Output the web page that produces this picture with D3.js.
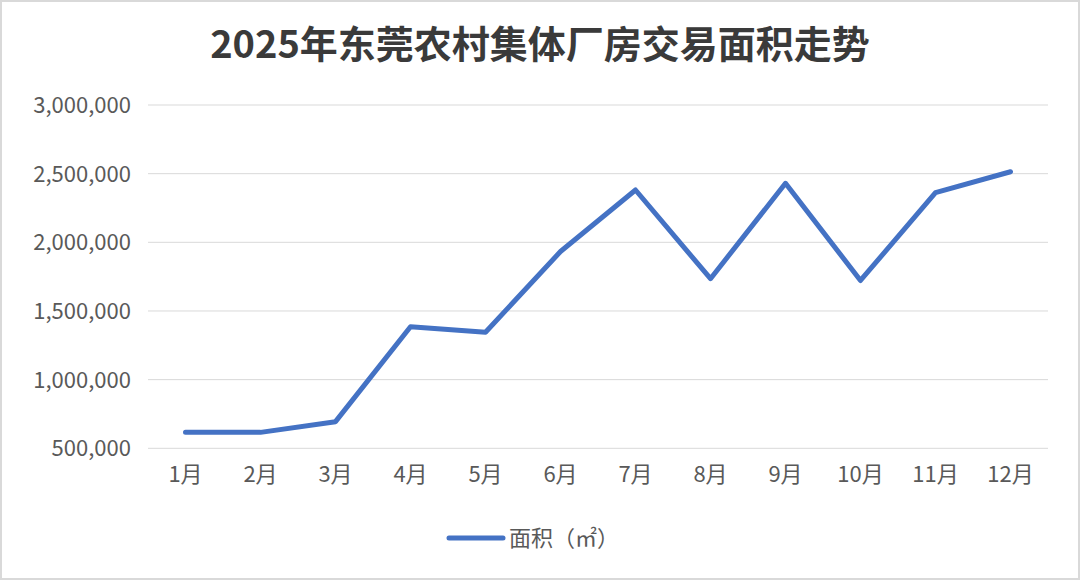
<!DOCTYPE html>
<html>
<head>
<meta charset="utf-8">
<script src="https://cdn.jsdelivr.net/npm/d3@7"></script>
<style>
  html, body { margin: 0; padding: 0; background: #fff; }
  #chart { width: 1080px; height: 580px; }
  text { font-family: "Noto Sans CJK SC", "Noto Sans", sans-serif; }
</style>
</head>
<body>
<div id="chart"></div>
<script>
var months = ["1月", "2月", "3月", "4月", "5月", "6月", "7月", "8月", "9月", "10月", "11月", "12月"];
var areaValues = [616000, 616000, 694000, 1385000, 1345000, 1933000, 2381000, 1735000, 2430000, 1722000, 2362000, 2514000];
var yTicks = [500000, 1000000, 1500000, 2000000, 2500000, 3000000];
var title = "2025年东莞农村集体厂房交易面积走势";
var seriesName = "面积（㎡）";

var width = 1080, height = 580;
var margin = { top: 105, right: 32, bottom: 131, left: 148 };

var svg = d3.select("#chart").append("svg")
    .attr("width", width)
    .attr("height", height);

// outer frame
svg.append("rect")
    .attr("x", 1).attr("y", 1)
    .attr("width", width - 2).attr("height", height - 2)
    .attr("fill", "#fff")
    .attr("stroke", "#d9d9d9")
    .attr("stroke-width", 2);

svg.append("text")
    .attr("x", width / 2)
    .attr("y", 58)
    .attr("text-anchor", "middle")
    .style("font-size", "38px")
    .style("font-weight", "bold")
    .style("fill", "#3a3a3a")
    .text(title);

var x = d3.scaleBand()
    .domain(months)
    .range([margin.left, width - margin.right]);

var y = d3.scaleLinear()
    .domain([500000, 3000000])
    .range([height - margin.bottom - 0.7, margin.top]);

// gridlines
svg.append("g")
    .selectAll("line")
    .data(yTicks)
    .join("line")
    .attr("x1", margin.left)
    .attr("x2", width - margin.right)
    .attr("y1", d => y(d))
    .attr("y2", d => y(d))
    .attr("stroke", "#d9d9d9")
    .attr("stroke-width", 1);

var yAxis = svg.append("g")
    .attr("transform", "translate(" + (margin.left - 17) + ",0)")
    .call(d3.axisLeft(y).tickValues(yTicks).tickFormat(d3.format(",d")).tickSize(0).tickPadding(0));
yAxis.select(".domain").remove();
yAxis.selectAll("text")
    .style("font-size", "22px")
    .style("fill", "#595959")
    .style("font-family", "\"Noto Sans CJK SC\", sans-serif")
    .attr("dy", "0.34em");

var xAxis = svg.append("g")
    .attr("transform", "translate(0," + y(500000) + ")")
    .call(d3.axisBottom(x).tickSize(0).tickPadding(0));
xAxis.select(".domain").remove();
xAxis.selectAll("text")
    .style("font-size", "22px")
    .style("fill", "#595959")
    .style("font-family", "\"Noto Sans CJK SC\", sans-serif")
    .attr("y", 32)
    .attr("dy", "0.1em");

var line = d3.line()
    .x((d, i) => x(months[i]) + x.bandwidth() / 2)
    .y(d => y(d));

svg.append("path")
    .datum(areaValues)
    .attr("d", line)
    .attr("fill", "none")
    .attr("stroke", "#4472c4")
    .attr("stroke-width", 5)
    .attr("stroke-linejoin", "round")
    .attr("stroke-linecap", "round");

// legend
var legend = svg.append("g").attr("transform", "translate(449,538)");
legend.append("line")
    .attr("x1", 0).attr("x2", 54)
    .attr("y1", 0).attr("y2", 0)
    .attr("stroke", "#4472c4")
    .attr("stroke-width", 5)
    .attr("stroke-linecap", "round");
legend.append("text")
    .attr("x", 60)
    .attr("y", 0)
    .attr("dy", "0.35em")
    .style("font-size", "22px")
    .style("fill", "#595959")
    .text(seriesName);
</script>
</body>
</html>
